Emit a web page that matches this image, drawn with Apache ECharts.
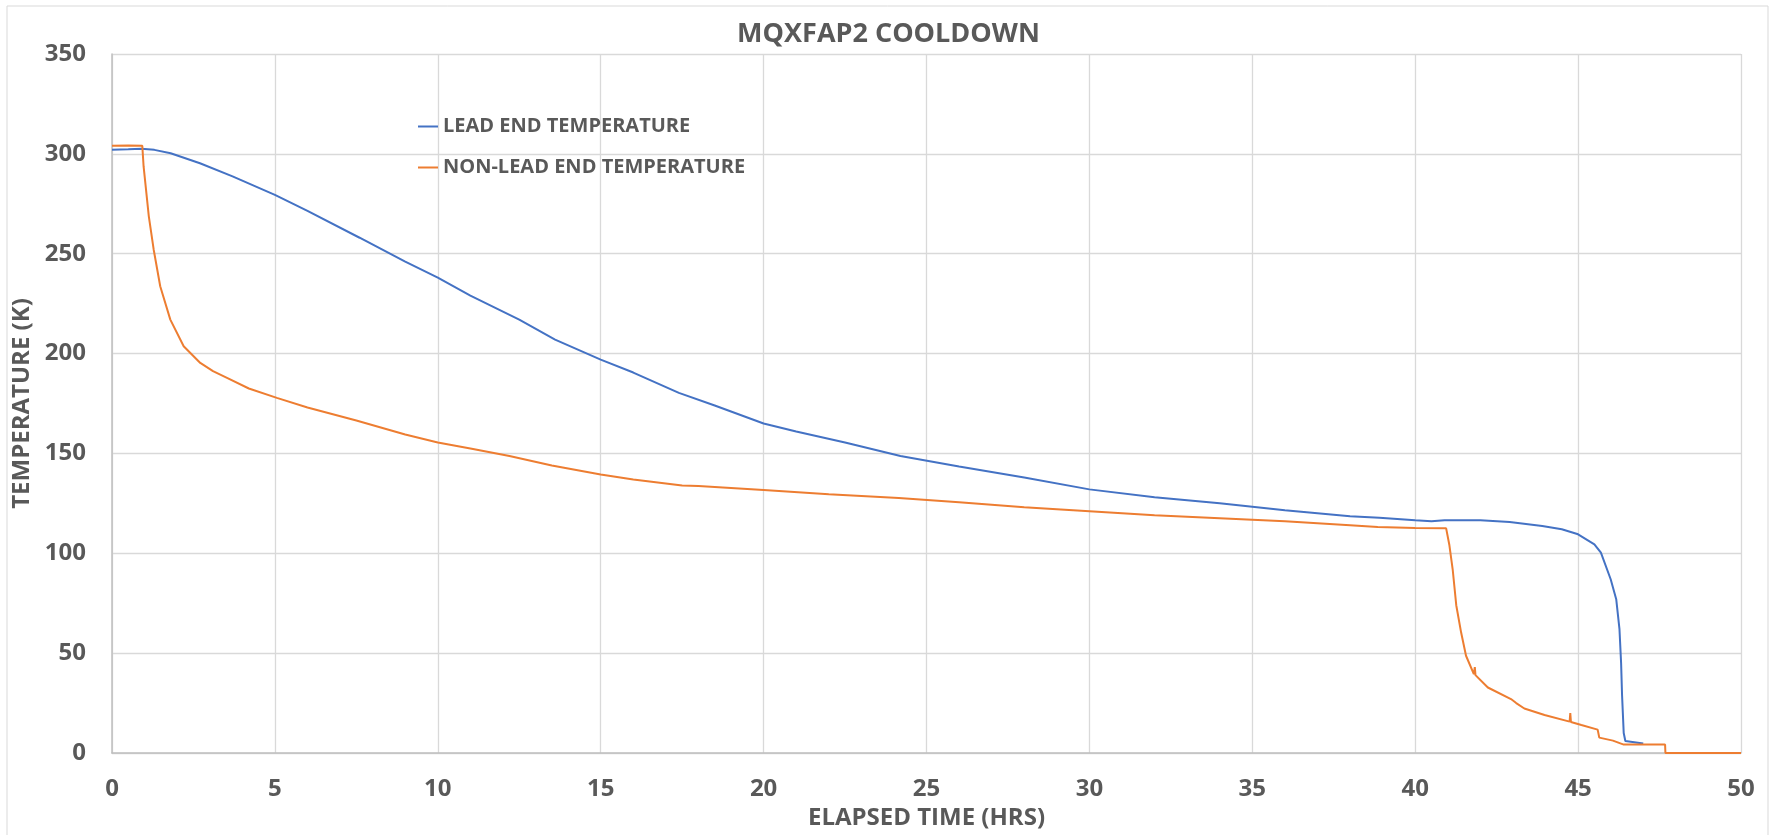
<!DOCTYPE html>
<html>
<head>
<meta charset="utf-8">
<title>MQXFAP2 COOLDOWN</title>
<script src="https://cdn.jsdelivr.net/npm/echarts@6/dist/echarts.min.js"></script>
<style>
  html, body { margin: 0; padding: 0; background: #fff; }
  #chart { width: 1777px; height: 835px; }
</style>
</head>
<body>
<div id="chart"></div>
<script>
// values
const xTicks = [0, 50, 5];   // min, max, step (hrs)
const yTicks = [0, 350, 50]; // min, max, step (K)

const leadTime = [0, 0.5, 0.9, 1.3, 1.8, 2.7, 3.7, 5, 6, 7.6, 9, 10, 11, 12.5, 13.6, 15, 16, 17.4, 18.5, 20, 21, 22.5, 24.2, 26, 28, 30, 32, 34, 36, 38, 38.9, 40, 40.5, 40.9, 42, 42.9, 43.9, 44.5, 45, 45.5, 45.7, 46, 46.17, 46.27, 46.32, 46.35, 46.4, 46.45, 47];
const leadTemp = [302, 302.3, 302.6, 302, 300.3, 295.3, 288.7, 279.5, 271.5, 258, 246, 238, 229, 217, 207, 197, 190.5, 180.3, 174, 165, 161, 155.5, 148.7, 143.5, 138, 132, 128, 125, 121.5, 118.5, 117.8, 116.5, 116, 116.6, 116.5, 115.7, 113.7, 112, 109.5, 104.5, 100.3, 87, 77, 62, 45, 28.7, 10, 6, 4.8];

const nonLeadTime = [0, 0.5, 0.93, 0.97, 1.13, 1.28, 1.48, 1.79, 2.2, 2.71, 3.1, 3.53, 4.2, 5.06, 6, 7.5, 9, 10, 11, 12.2, 13.5, 15, 16, 17.5, 18, 20, 22, 24.15, 26, 28, 30, 32, 34, 36, 38, 38.85, 40, 40.95, 41.05, 41.15, 41.26, 41.41, 41.56, 41.8, 41.83, 41.85, 42.23, 42.94, 43.1, 43.35, 43.97, 44.74, 44.76, 44.78, 45.1, 45.6, 45.65, 46.07, 46.4, 47.67, 47.68, 50];
const nonLeadTemp = [304, 304.2, 304, 293.7, 268.7, 252, 233.7, 217, 203.7, 195.3, 191.2, 187.8, 182.5, 177.8, 173, 166.5, 159.5, 155.5, 152.5, 148.7, 144, 139.5, 137, 134, 133.7, 131.7, 129.5, 127.7, 125.5, 123, 121, 119, 117.5, 116, 114, 113.2, 112.7, 112.5, 104, 92, 74, 60.3, 48.7, 39.5, 43, 39, 32.8, 27, 25, 22.3, 19, 15.7, 20, 15.5, 14, 11.7, 7.7, 6.2, 4.2, 4.2, 0, 0];

const textColor = '#595959';
const font = '"Open Sans", Lato, sans-serif';

const chart = echarts.init(document.getElementById('chart'));

const option = {
    backgroundColor: '#fff',
    title: {
        text: 'MQXFAP2 COOLDOWN',
        left: 'center',
        top: 16,
        textStyle: { color: textColor, fontSize: 27, fontWeight: 'bold', fontFamily: font }
    },
    legend: {
        orient: 'vertical',
        left: 413,
        top: 109,
        icon: 'rect',
        itemWidth: 20,
        itemHeight: 2,
        itemGap: 16,
        textStyle: { color: textColor, fontSize: 20, fontWeight: 'bold', fontFamily: font, lineHeight: 25 }
    },
    graphic: [{
        type: 'rect',
        shape: { x: 7, y: 6, width: 1761, height: 840 },
        style: { fill: 'none', stroke: '#d9d9d9', lineWidth: 1 },
        silent: true
    }],
    grid: { left: 112, right: 36, top: 54, bottom: 81 },
    xAxis: {
        type: 'value',
        min: xTicks[0], max: xTicks[1], interval: xTicks[2],
        name: 'ELAPSED TIME (HRS)',
        nameLocation: 'middle',
        nameGap: 53,
        nameTextStyle: { color: textColor, fontSize: 24, fontWeight: 'bold', fontFamily: font },
        axisLine: { lineStyle: { color: '#bfbfbf', width: 1.5 } },
        axisTick: { show: false },
        axisLabel: { color: textColor, fontSize: 24, fontWeight: 'bold', fontFamily: font, margin: 24 },
        splitLine: { lineStyle: { color: '#d9d9d9', width: 1.3 } }
    },
    yAxis: {
        type: 'value',
        min: yTicks[0], max: yTicks[1], interval: yTicks[2],
        name: 'TEMPERATURE (K)',
        nameLocation: 'middle',
        nameGap: 64,
        nameTextStyle: { color: textColor, fontSize: 24, fontWeight: 'bold', fontFamily: font },
        axisLine: { show: true, lineStyle: { color: '#bfbfbf', width: 1.5 } },
        axisTick: { show: false },
        axisLabel: { color: textColor, fontSize: 24, fontWeight: 'bold', fontFamily: font, margin: 26 },
        splitLine: { lineStyle: { color: '#d9d9d9', width: 1.3 } }
    },
    series: [
        {
            name: 'LEAD END TEMPERATURE',
            type: 'line',
            symbol: 'none',
            color: '#4472C4',
            lineStyle: { width: 2 },
            data: leadTime.map((t, i) => [t, leadTemp[i]])
        },
        {
            name: 'NON-LEAD END TEMPERATURE',
            type: 'line',
            symbol: 'none',
            color: '#ED7D31',
            lineStyle: { width: 2 },
            data: nonLeadTime.map((t, i) => [t, nonLeadTemp[i]])
        }
    ],
    animation: false
};

chart.setOption(option);
</script>
</body>
</html>
